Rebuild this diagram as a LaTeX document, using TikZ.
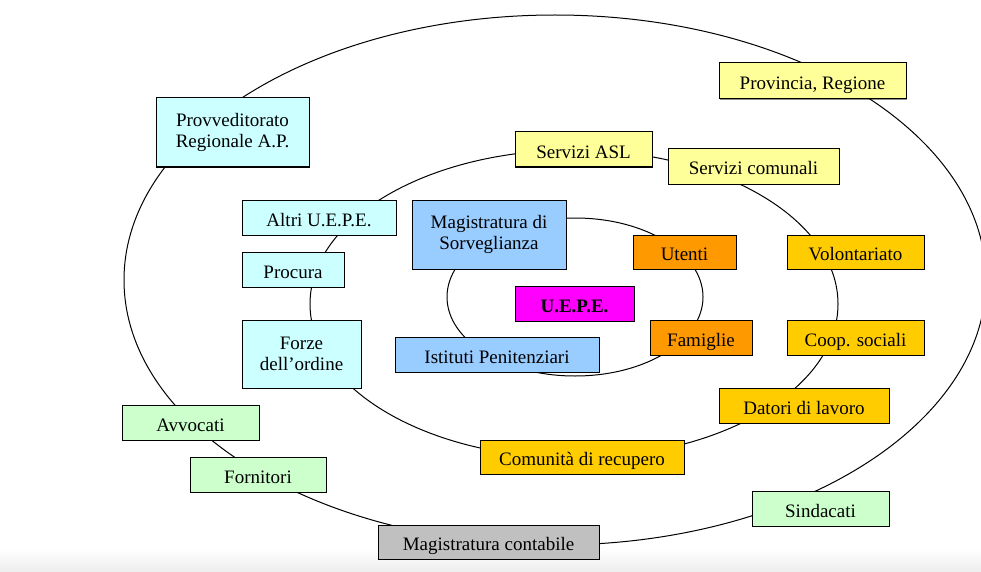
\documentclass[tikz,border=0pt]{standalone}
\usepackage{fontspec}
\setmainfont{Liberation Serif}
\usetikzlibrary{shadows}
\definecolor{cCyan}{HTML}{CCFFFF}
\definecolor{cBlue}{HTML}{99CCFF}
\definecolor{cYel}{HTML}{FFFF99}
\definecolor{cOra}{HTML}{FF9900}
\definecolor{cGold}{HTML}{FFCC00}
\definecolor{cMag}{HTML}{FF00FF}
\definecolor{cGreen}{HTML}{CCFFCC}
\definecolor{cGrey}{HTML}{C0C0C0}
\tikzset{
  box/.style={draw=black, line width=1pt, rectangle, inner sep=0pt, align=center,
    font=\fontsize{19}{21.5}\selectfont,
    drop shadow={shadow xshift=1pt, shadow yshift=-1pt, opacity=0.45, fill=black}},
  oneline/.style={text height=21pt, text depth=4pt},
  twoline/.style={yshift=1pt},
  ring/.style={draw=black, line width=1pt},
}
\newcommand{\bx}[8]{\node[box, #8, fill=#6, minimum width=#4pt, minimum height=#5pt] (#1) at (#2,#3) {#7};}
\begin{document}
\begin{tikzpicture}[x=1pt,y=-1pt]
\useasboundingbox (0,0) rectangle (981,572);
\shade[top color=white, bottom color=black!7, draw=none] (0,548) rectangle (981,572);
% rings
\draw[ring] (555,280) ellipse [x radius=431pt, y radius=265pt];
\draw[ring] (574,304) ellipse [x radius=264pt, y radius=154pt];
\draw[ring] (575,297) ellipse [x radius=128pt, y radius=79pt];
% boxes
\bx{prov}{232.5}{132.5}{153}{69}{cCyan}{Provveditorato\\Regionale A.P.}{}
\bx{provreg}{812.5}{81}{187}{36}{cYel}{Provincia, Regione}{oneline}
\bx{asl}{583.5}{149.5}{137}{35}{cYel}{Servizi ASL}{oneline}
\bx{comunali}{753.5}{166.5}{171}{35}{cYel}{Servizi comunali}{oneline}
\bx{altri}{319}{217.5}{154}{35}{cCyan}{Altri U.E.P.E.}{oneline}
\bx{magsorv}{489}{234.5}{154}{69}{cBlue}{Magistratura di\\Sorveglianza}{}
\bx{utenti}{684.5}{252}{103}{34}{cOra}{Utenti}{oneline}
\bx{volont}{855.5}{252}{137}{34}{cGold}{Volontariato}{oneline}
\bx{procura}{293}{269.5}{102}{35}{cCyan}{Procura}{oneline}
\bx{uepe}{574.5}{303.5}{119}{35}{cMag}{\textbf{U.E.P.E.}}{oneline}
\bx{forze}{301.5}{354}{119}{68}{cCyan}{Forze\\dell’ordine}{}
\bx{istituti}{497}{354.5}{204}{35}{cBlue}{Istituti Penitenziari}{oneline}
\bx{famiglie}{701}{337.5}{102}{35}{cOra}{Famiglie}{oneline}
\bx{coop}{855.5}{337.5}{137}{35}{cGold}{Coop. sociali}{oneline}
\bx{datori}{804}{405.5}{170}{35}{cGold}{Datori di lavoro}{oneline}
\bx{avvocati}{190.5}{422.5}{137}{35}{cGreen}{Avvocati}{oneline}
\bx{fornitori}{258}{474.5}{136}{35}{cGreen}{Fornitori}{oneline}
\bx{comunita}{582}{457}{204}{34}{cGold}{Comunità di recupero}{oneline}
\bx{sindacati}{820.5}{508.5}{137}{35}{cGreen}{Sindacati}{oneline}
\bx{magcont}{488.5}{542}{221}{34}{cGrey}{Magistratura contabile}{oneline}
\end{tikzpicture}
\end{document}
